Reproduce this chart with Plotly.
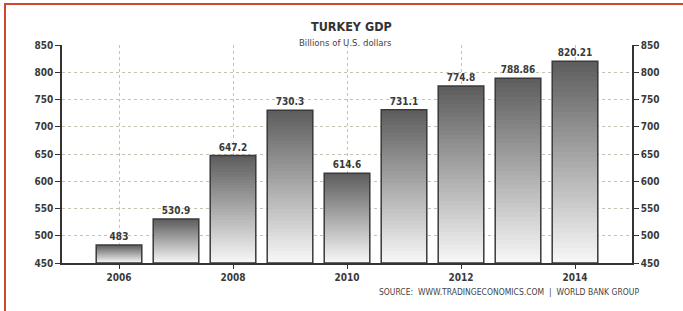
import plotly.graph_objects as go

years = [2006, 2007, 2008, 2009, 2010, 2011, 2012, 2013, 2014]
gdp = [483, 530.9, 647.2, 730.3, 614.6, 731.1, 774.8, 788.86, 820.21]
gdp_labels = ["483", "530.9", "647.2", "730.3", "614.6", "731.1", "774.8", "788.86", "820.21"]
y_ticks = [450, 500, 550, 600, 650, 700, 750, 800, 850]
x_ticks = [2006, 2008, 2010, 2012, 2014]

Y0, Y1 = 450, 850
N = 40
top_rgb = (92, 92, 92)
bot_rgb = (248, 248, 248)

FONT = "DejaVu Sans Condensed"
TXT = "#3a3a3a"

fig = go.Figure()

# gradient: nested bars, tallest (darkest) first, each shorter one lighter
for j in range(N):
    frac = (N - j) / N
    t = (N - j - 0.5) / N  # 1 top -> 0 bottom
    c = tuple(round(bot_rgb[i] + (top_rgb[i] - bot_rgb[i]) * t) for i in range(3))
    fig.add_trace(go.Bar(
        x=years,
        base=[Y0] * len(gdp),
        y=[(v - Y0) * frac for v in gdp],
        marker=dict(color=f"rgb{c}", line=dict(width=0)),
        width=0.8, hoverinfo="skip", showlegend=False,
    ))

# outline + value labels
fig.add_trace(go.Bar(
    x=years,
    base=[Y0] * len(gdp),
    y=[v - Y0 for v in gdp],
    marker=dict(color="rgba(0,0,0,0)", line=dict(color="#3a3a3a", width=1.5)),
    width=0.8,
    text=gdp_labels, textposition="outside", cliponaxis=False,
    textfont=dict(family=FONT, size=10, color=TXT, weight="bold"),
    showlegend=False,
))

# invisible trace for right axis
fig.add_trace(go.Scatter(x=[years[0]], y=[Y0], yaxis="y2", mode="markers",
                         marker=dict(opacity=0), showlegend=False, hoverinfo="skip"))

axis_font = dict(family=FONT, size=10, color=TXT, weight="bold")
grid_col = "#c8c2b4"

fig.update_layout(
    width=683, height=311,
    margin=dict(l=62, r=51, t=45, b=48),
    paper_bgcolor="white", plot_bgcolor="white",
    barmode="overlay",
    xaxis=dict(range=[2005, 2015], tickvals=x_ticks, ticktext=[str(v) for v in x_ticks],
               showline=True, linecolor="#333", linewidth=1.5,
               ticks="outside", ticklen=4, tickcolor="#333",
               showgrid=True, gridcolor=grid_col, griddash="dot", gridwidth=1,
               zeroline=False, tickfont=axis_font),
    yaxis=dict(range=[Y0, Y1], tickvals=y_ticks, showline=True, linecolor="#333", linewidth=1.5,
               ticks="outside", ticklen=5, tickcolor="#333",
               showgrid=True, gridcolor=grid_col, griddash="dot", gridwidth=1,
               zeroline=False, tickfont=axis_font),
    yaxis2=dict(range=[Y0, Y1], tickvals=y_ticks, overlaying="y", side="right",
                showline=True, linecolor="#333", linewidth=1.5,
                ticks="outside", ticklen=5, tickcolor="#333",
                showgrid=False, zeroline=False, tickfont=axis_font),
    annotations=[
        dict(text="TURKEY GDP", x=(351 - 62) / 570, y=(263 - 17) / 218, xref="paper", yref="paper",
             showarrow=False, font=dict(family=FONT, size=12.5, color="#333", weight="bold")),
        dict(text="Billions of U.S. dollars", x=(345 - 62) / 570, y=(263 - 35) / 218, xref="paper", yref="paper",
             showarrow=False, font=dict(family=FONT, size=9.5, color="#444")),
        dict(text="SOURCE:  WWW.TRADINGECONOMICS.COM  |  WORLD BANK GROUP",
             x=(641 - 62) / 570, y=(263 - 299) / 218, xref="paper", yref="paper",
             xanchor="right", showarrow=False,
             font=dict(family=FONT, size=8.5, color="#444")),
    ],
    shapes=[
        dict(type="line", xref="paper", yref="paper",
             x0=(5 - 62) / 570, x1=(5 - 62) / 570, y0=(263 - 3) / 218, y1=(263 - 311) / 218,
             line=dict(color="#d2452f", width=2)),
        dict(type="line", xref="paper", yref="paper",
             x0=(5 - 62) / 570, x1=(683 - 62) / 570, y0=(263 - 4) / 218, y1=(263 - 4) / 218,
             line=dict(color="#d2452f", width=2)),
    ],
)

fig.write_html("out.html", config={"displayModeBar": False},
               post_script="document.body.style.margin='0px';")
